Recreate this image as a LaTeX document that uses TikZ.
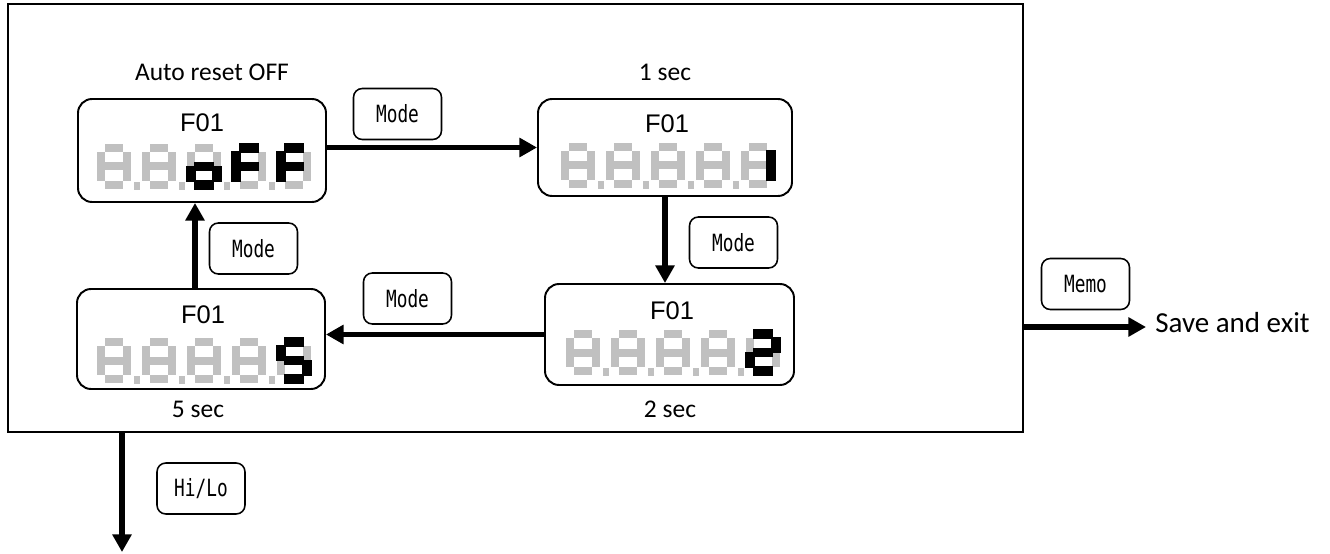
\documentclass[tikz,border=0pt]{standalone}
\usepackage{fontspec}
\setmainfont{Carlito}
\newfontfamily\arialfont{Liberation Sans}
\newfontfamily\botonfont[FakeStretch=0.75]{DejaVu Sans Mono}
\usetikzlibrary{arrows.meta,fit}

\definecolor{segris}{RGB}{192,192,192}

% Segmentos de un digito (unidades en px, y hacia abajo)
\def\segA{(8,0) rectangle (26,8)}
\def\segB{(26,8) rectangle (34,22.5)}
\def\segC{(26,22.5) rectangle (34,37)}
\def\segD{(8,37) rectangle (26,45)}
\def\segE{(0,22.5) rectangle (8,37)}
\def\segF{(0,8) rectangle (8,22.5)}
\def\segG{(8,18.5) rectangle (26,26.5)}
\def\segP{(37,38) rectangle (43,46)}

% Un digito de siete segmentos
\newcommand{\sietesegs}[4]{%
  \begin{scope}[shift={(#1,#2)}]
    \foreach \s in {#3} {\filldraw[#4] \csname seg\s\endcsname;}
  \end{scope}}

% Cinco "8." en gris
\newcommand{\ochos}[2]{%
  \foreach \i in {0,...,4} {\sietesegs{#1+45*\i}{#2}{A,B,C,D,E,F,G}{segris, draw=none}}
  \foreach \i in {0,...,3} {\sietesegs{#1+45*\i}{#2}{P}{segris, draw=none}}}

\tikzset{
  pantalla/.style={draw, line width=1.1pt, rounded corners=8pt, inner sep=0pt},
  boton/.style={draw, line width=0.9pt, rounded corners=5pt, minimum width=1.76cm,
    minimum height=1.02cm, font=\botonfont\fontsize{13.5}{15}\selectfont},
  flecha/.style={line width=3pt, -{Triangle[length=10pt,width=10.5pt]}},
  etiqueta/.style={font=\fontsize{14.5}{17}\selectfont},
  codigo/.style={font=\arialfont\fontsize{14.5}{16}\selectfont},
  negro/.style={black, line width=0.8pt}
}

\begin{document}
\begin{tikzpicture}[x=0.02cm, y=-0.02cm]
  \useasboundingbox (0,0) rectangle (1330,554);

  % Marco exterior
  \node[draw, line width=0.8pt, inner sep=0pt, fit={(8,4) (1023,432)}] (marco) {};

  % Pantallas
  \node[pantalla, fit={(78,99) (326,202)}] (off) {};
  \node[pantalla, fit={(538,99) (792,196)}] (uno) {};
  \node[pantalla, fit={(545,284) (794,385)}] (dos) {};
  \node[pantalla, fit={(77,289) (325,389)}] (cinco) {};

  % Etiquetas de las pantallas
  \node[etiqueta] (lbloff) at (212,72) {Auto reset OFF};
  \node[etiqueta] (lbluno) at (665,72) {1 sec};
  \node[etiqueta] (lbldos) at (670,409) {2 sec};
  \node[etiqueta] (lblcinco) at (198,409) {5 sec};

  % Codigo F01
  \node[codigo] (foff) at (202,123) {F01};
  \node[codigo] (funo) at (667,124) {F01};
  \node[codigo] (fdos) at (672,311) {F01};
  \node[codigo] (fcinco) at (203,315) {F01};

  % Digitos: oFF
  \ochos{97}{144}
  \sietesegs{97+90}{144}{C,D,E,G}{negro}
  \sietesegs{97+135}{144}{A,F,E,G}{negro}
  \sietesegs{97+180}{144}{A,F,E,G}{negro}

  % Digitos: 1
  \ochos{561}{143}
  \sietesegs{561+180}{143}{B,C}{negro}

  % Digitos: 2
  \ochos{566}{330}
  \sietesegs{566+180}{330}{A,B,G,E,D}{negro}

  % Digitos: 5
  \ochos{97}{338}
  \sietesegs{97+180}{338}{A,F,G,C,D}{negro}

  % Flechas entre pantallas
  \draw[flecha] (off.east |- uno.west) -- (uno.west);
  \draw[flecha] (uno.south) -- (uno.south |- dos.north);
  \draw[flecha] (dos.west) -- (dos.west -| cinco.east);
  \draw[flecha] ([xshift=-0.12cm]cinco.north) -- ([xshift=-0.12cm]cinco.north |- off.south);

  % Botones
  \node[boton] (modo1) at (397.5,114) {Mode};
  \node[boton] (modo2) at (733.5,242.5) {Mode};
  \node[boton] (modo3) at (407.5,298.5) {Mode};
  \node[boton] (modo4) at (253.5,248.5) {Mode};
  \node[boton] (hilo) at (201,488.5) {Hi/Lo};
  \node[boton] (memo) at (1085.5,284) {Memo};

  % Salidas
  \node[etiqueta, font=\fontsize{16.5}{19}\selectfont, anchor=west, inner sep=0pt] (salida) at (1155,323) {Save and exit};
  \coordinate (finmemo) at (1146,327);
  \draw[flecha] (marco.east |- finmemo) -- (finmemo);
  \coordinate (finhilo) at (122,552);
  \draw[flecha] (marco.south -| finhilo) -- (finhilo);
\end{tikzpicture}
\end{document}
